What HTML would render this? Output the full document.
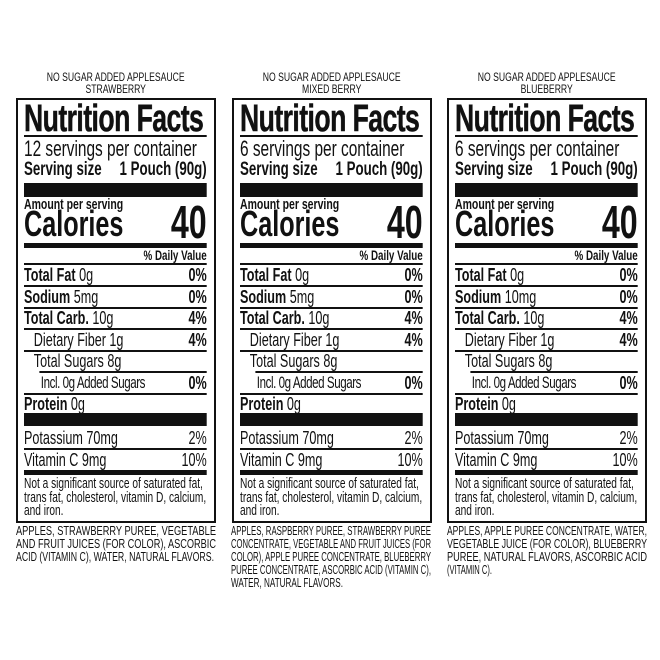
<!DOCTYPE html>
<html><head><meta charset="utf-8"><style>
*{margin:0;padding:0;box-sizing:border-box}
body{width:660px;height:660px;background:#fff;position:relative;overflow:hidden;font-family:"Liberation Sans",sans-serif;color:#111}
.p{position:absolute;top:0;width:200px;height:660px}
.hd{position:absolute;left:0;width:200px;top:71px;font-size:12px;line-height:12px;text-align:center}
.hd span{display:inline-block;transform:scaleX(.72)}
.box{position:absolute;left:0;top:98px;width:200px;height:425px;border:2px solid #111}
.in{position:absolute;left:6px;top:0;width:261px;height:420px;transform:scaleX(.7);transform-origin:0 0}
.r{position:absolute;left:0;width:261px;display:flex;justify-content:space-between;white-space:nowrap}
.ln{position:absolute;left:0;width:261px;background:#111}
b{font-weight:bold}
.t{top:1px;font:bold 38px/36px 'Liberation Sans',sans-serif;letter-spacing:-.8px;-webkit-text-stroke:.5px #111}
.rw{font-size:18px;line-height:20px}
svg.ing{position:absolute;left:0;top:0}
svg.ing text{font-family:"Liberation Sans",sans-serif;font-size:12.5px;fill:#111}
</style></head><body>

<div class="p" style="left:16px">
<div class="hd"><span>NO SUGAR ADDED APPLESAUCE<br>STRAWBERRY</span></div>
<div class="box"><div class="in">
<div class="r t">Nutrition Facts</div>
<div class="ln" style="top:35px;height:2px"></div>
<div class="r" style="top:38px;font-size:22px;line-height:22px">12 servings per container</div>
<div class="r" style="top:59px;font-size:19px;line-height:22px;font-weight:bold"><span>Serving size</span><span>1 Pouch (90g)</span></div>
<div class="ln" style="top:83px;height:14px"></div>
<div class="r" style="top:98px;font-size:15px;line-height:14px;font-weight:bold">Amount per serving</div>
<div class="r" style="top:107px;font-size:36px;line-height:34px;font-weight:bold">Calories</div>
<div class="r" style="top:100px;font-size:46px;line-height:44px;font-weight:bold;justify-content:flex-end">40</div>
<div class="ln" style="top:143px;height:5px"></div>
<div class="r" style="top:148px;font-size:14px;line-height:14px;font-weight:bold;justify-content:flex-end">% Daily Value</div>
<div class="ln" style="top:163px;height:2px"></div>
<div class="r rw" style="top:165px"><span><b>Total Fat</b> 0g</span><b>0%</b></div>
<div class="ln" style="top:185px;height:2px"></div>
<div class="r rw" style="top:187px"><span><b>Sodium</b> 5mg</span><b>0%</b></div>
<div class="ln" style="top:207px;height:2px"></div>
<div class="r rw" style="top:208px"><span><b>Total Carb.</b> 10g</span><b>4%</b></div>
<div class="ln" style="top:228px;height:2px"></div>
<div class="r rw" style="top:230px"><span style="padding-left:14px">Dietary Fiber 1g</span><b>4%</b></div>
<div class="ln" style="top:250px;height:2px"></div>
<div class="r rw" style="top:251px"><span style="padding-left:14px">Total Sugars 8g</span></div>
<div class="ln" style="top:271px;height:2px;left:22px;width:239px"></div>
<div class="r" style="top:273px;font-size:16.5px;line-height:20px"><span style="padding-left:24px;letter-spacing:-.6px">Incl. 0g Added Sugars</span><b style="font-size:18px">0%</b></div>
<div class="ln" style="top:293px;height:2px"></div>
<div class="r rw" style="top:294px"><span><b>Protein</b> 0g</span></div>
<div class="ln" style="top:313px;height:13px"></div>
<div class="r rw" style="top:328px"><span>Potassium 70mg</span><span>2%</span></div>
<div class="ln" style="top:348px;height:2px"></div>
<div class="r rw" style="top:350px"><span>Vitamin C 9mg</span><span>10%</span></div>
<div class="ln" style="top:370px;height:5px"></div>
<div class="r" style="top:378px;font-size:14.5px;line-height:13.6px;white-space:normal;display:block">Not a significant source of saturated fat, trans fat, cholesterol, vitamin D, calcium, and iron.</div>
</div></div>
</div>

<div class="p" style="left:232px">
<div class="hd"><span>NO SUGAR ADDED APPLESAUCE<br>MIXED BERRY</span></div>
<div class="box"><div class="in">
<div class="r t">Nutrition Facts</div>
<div class="ln" style="top:35px;height:2px"></div>
<div class="r" style="top:38px;font-size:22px;line-height:22px">6 servings per container</div>
<div class="r" style="top:59px;font-size:19px;line-height:22px;font-weight:bold"><span>Serving size</span><span>1 Pouch (90g)</span></div>
<div class="ln" style="top:83px;height:14px"></div>
<div class="r" style="top:98px;font-size:15px;line-height:14px;font-weight:bold">Amount per serving</div>
<div class="r" style="top:107px;font-size:36px;line-height:34px;font-weight:bold">Calories</div>
<div class="r" style="top:100px;font-size:46px;line-height:44px;font-weight:bold;justify-content:flex-end">40</div>
<div class="ln" style="top:143px;height:5px"></div>
<div class="r" style="top:148px;font-size:14px;line-height:14px;font-weight:bold;justify-content:flex-end">% Daily Value</div>
<div class="ln" style="top:163px;height:2px"></div>
<div class="r rw" style="top:165px"><span><b>Total Fat</b> 0g</span><b>0%</b></div>
<div class="ln" style="top:185px;height:2px"></div>
<div class="r rw" style="top:187px"><span><b>Sodium</b> 5mg</span><b>0%</b></div>
<div class="ln" style="top:207px;height:2px"></div>
<div class="r rw" style="top:208px"><span><b>Total Carb.</b> 10g</span><b>4%</b></div>
<div class="ln" style="top:228px;height:2px"></div>
<div class="r rw" style="top:230px"><span style="padding-left:14px">Dietary Fiber 1g</span><b>4%</b></div>
<div class="ln" style="top:250px;height:2px"></div>
<div class="r rw" style="top:251px"><span style="padding-left:14px">Total Sugars 8g</span></div>
<div class="ln" style="top:271px;height:2px;left:22px;width:239px"></div>
<div class="r" style="top:273px;font-size:16.5px;line-height:20px"><span style="padding-left:24px;letter-spacing:-.6px">Incl. 0g Added Sugars</span><b style="font-size:18px">0%</b></div>
<div class="ln" style="top:293px;height:2px"></div>
<div class="r rw" style="top:294px"><span><b>Protein</b> 0g</span></div>
<div class="ln" style="top:313px;height:13px"></div>
<div class="r rw" style="top:328px"><span>Potassium 70mg</span><span>2%</span></div>
<div class="ln" style="top:348px;height:2px"></div>
<div class="r rw" style="top:350px"><span>Vitamin C 9mg</span><span>10%</span></div>
<div class="ln" style="top:370px;height:5px"></div>
<div class="r" style="top:378px;font-size:14.5px;line-height:13.6px;white-space:normal;display:block">Not a significant source of saturated fat, trans fat, cholesterol, vitamin D, calcium, and iron.</div>
</div></div>
</div>

<div class="p" style="left:447px">
<div class="hd"><span>NO SUGAR ADDED APPLESAUCE<br>BLUEBERRY</span></div>
<div class="box"><div class="in">
<div class="r t">Nutrition Facts</div>
<div class="ln" style="top:35px;height:2px"></div>
<div class="r" style="top:38px;font-size:22px;line-height:22px">6 servings per container</div>
<div class="r" style="top:59px;font-size:19px;line-height:22px;font-weight:bold"><span>Serving size</span><span>1 Pouch (90g)</span></div>
<div class="ln" style="top:83px;height:14px"></div>
<div class="r" style="top:98px;font-size:15px;line-height:14px;font-weight:bold">Amount per serving</div>
<div class="r" style="top:107px;font-size:36px;line-height:34px;font-weight:bold">Calories</div>
<div class="r" style="top:100px;font-size:46px;line-height:44px;font-weight:bold;justify-content:flex-end">40</div>
<div class="ln" style="top:143px;height:5px"></div>
<div class="r" style="top:148px;font-size:14px;line-height:14px;font-weight:bold;justify-content:flex-end">% Daily Value</div>
<div class="ln" style="top:163px;height:2px"></div>
<div class="r rw" style="top:165px"><span><b>Total Fat</b> 0g</span><b>0%</b></div>
<div class="ln" style="top:185px;height:2px"></div>
<div class="r rw" style="top:187px"><span><b>Sodium</b> 10mg</span><b>0%</b></div>
<div class="ln" style="top:207px;height:2px"></div>
<div class="r rw" style="top:208px"><span><b>Total Carb.</b> 10g</span><b>4%</b></div>
<div class="ln" style="top:228px;height:2px"></div>
<div class="r rw" style="top:230px"><span style="padding-left:14px">Dietary Fiber 1g</span><b>4%</b></div>
<div class="ln" style="top:250px;height:2px"></div>
<div class="r rw" style="top:251px"><span style="padding-left:14px">Total Sugars 8g</span></div>
<div class="ln" style="top:271px;height:2px;left:22px;width:239px"></div>
<div class="r" style="top:273px;font-size:16.5px;line-height:20px"><span style="padding-left:24px;letter-spacing:-.6px">Incl. 0g Added Sugars</span><b style="font-size:18px">0%</b></div>
<div class="ln" style="top:293px;height:2px"></div>
<div class="r rw" style="top:294px"><span><b>Protein</b> 0g</span></div>
<div class="ln" style="top:313px;height:13px"></div>
<div class="r rw" style="top:328px"><span>Potassium 70mg</span><span>2%</span></div>
<div class="ln" style="top:348px;height:2px"></div>
<div class="r rw" style="top:350px"><span>Vitamin C 9mg</span><span>10%</span></div>
<div class="ln" style="top:370px;height:5px"></div>
<div class="r" style="top:378px;font-size:14.5px;line-height:13.6px;white-space:normal;display:block">Not a significant source of saturated fat, trans fat, cholesterol, vitamin D, calcium, and iron.</div>
</div></div>
</div>

<svg class="ing" width="660" height="660" viewBox="0 0 660 660">
<g>
<text x="16" y="535" textLength="200" lengthAdjust="spacingAndGlyphs">APPLES, STRAWBERRY PUREE, VEGETABLE</text>
<text x="16" y="548" textLength="200" lengthAdjust="spacingAndGlyphs">AND FRUIT JUICES (FOR COLOR), ASCORBIC</text>
<text x="16" y="561" textLength="198" lengthAdjust="spacingAndGlyphs">ACID (VITAMIN C), WATER, NATURAL FLAVORS.</text>

<text x="231" y="535" textLength="200" lengthAdjust="spacingAndGlyphs">APPLES, RASPBERRY PUREE, STRAWBERRY PUREE</text>
<text x="231" y="548" textLength="200" lengthAdjust="spacingAndGlyphs">CONCENTRATE, VEGETABLE AND FRUIT JUICES (FOR</text>
<text x="231" y="561" textLength="200" lengthAdjust="spacingAndGlyphs">COLOR), APPLE PUREE CONCENTRATE, BLUEBERRY</text>
<text x="231" y="574" textLength="200" lengthAdjust="spacingAndGlyphs">PUREE CONCENTRATE, ASCORBIC ACID (VITAMIN C),</text>
<text x="231" y="587" textLength="112" lengthAdjust="spacingAndGlyphs">WATER, NATURAL FLAVORS.</text>

<text x="447" y="535" textLength="200" lengthAdjust="spacingAndGlyphs">APPLES, APPLE PUREE CONCENTRATE, WATER,</text>
<text x="447" y="548" textLength="200" lengthAdjust="spacingAndGlyphs">VEGETABLE JUICE (FOR COLOR), BLUEBERRY</text>
<text x="447" y="561" textLength="200" lengthAdjust="spacingAndGlyphs">PUREE, NATURAL FLAVORS, ASCORBIC ACID</text>
<text x="447" y="574" textLength="45" lengthAdjust="spacingAndGlyphs">(VITAMIN C).</text>
</g>
</svg>

</body></html>
